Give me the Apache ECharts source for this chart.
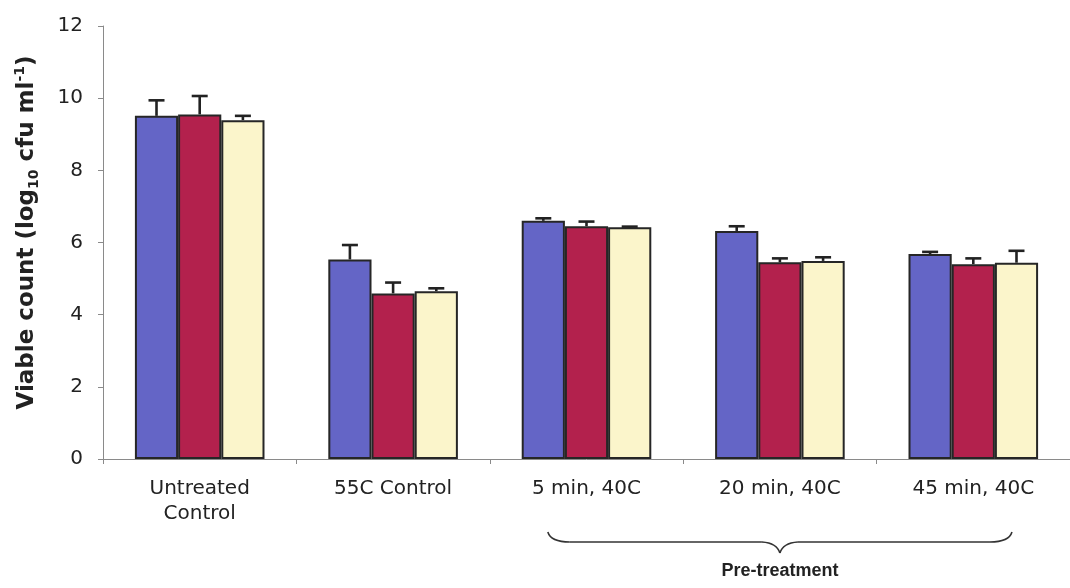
<!DOCTYPE html>
<html><head><meta charset="utf-8">
<script src="https://cdn.jsdelivr.net/npm/echarts@6/dist/echarts.min.js"></script>
<style>html,body{margin:0;padding:0;background:#fff}#c{width:1070px;height:588px}</style>
</head><body><div id="c"></div>
<script>
const categories = ['Untreated\nControl', '55C Control', '5 min, 40C', '20 min, 40C', '45 min, 40C'];
const seriesA = [9.51, 5.53, 6.60, 6.32, 5.68];
const seriesB = [9.55, 4.59, 6.45, 5.45, 5.40];
const seriesC = [9.39, 4.65, 6.42, 5.49, 5.44];
const errA = [0.43, 0.40, 0.07, 0.13, 0.06];
const errB = [0.51, 0.30, 0.13, 0.11, 0.16];
const errC = [0.12, 0.08, 0.02, 0.10, 0.33];
const yTicks = [0, 2, 4, 6, 8, 10, 12];
const colors = ['#6465c6', '#b3214d', '#fbf5cb'];
const groupLabel = 'Pre-treatment';

const FONT = 'DejaVu Sans, Liberation Sans, Arial';
const chart = echarts.init(document.getElementById('c'), null, {renderer: 'canvas'});
const gapFrac = 0.33;
function errSeries(values, errs, k) {
  return {
    type: 'custom', z: 5,
    data: values.map((v, i) => [i, v, v + errs[i]]),
    renderItem: function (params, api) {
      const i = api.value(0);
      const base = api.coord([i, api.value(1)]);
      const top = api.coord([i, api.value(2)]);
      const bw = api.size([1, 0])[0] * (1 - gapFrac) / 3;
      const x = base[0] + (k - 1) * bw;
      const cap = 8;
      const st = {stroke: '#222', lineWidth: 2.6};
      return {type: 'group', children: [
        {type: 'line', shape: {x1: x, y1: base[1], x2: x, y2: top[1]}, style: st},
        {type: 'line', shape: {x1: x - cap, y1: top[1], x2: x + cap, y2: top[1]}, style: st}
      ]};
    }
  };
}
const barBase = {type: 'bar', barGap: '0%', barCategoryGap: (gapFrac * 100) + '%',
  itemStyle: {borderColor: '#262626', borderWidth: 2}};
chart.setOption({
  animation: false,
  backgroundColor: '#ffffff',
  grid: {left: 103, top: 26, width: 975, height: 433, containLabel: false},
  xAxis: {
    type: 'category', data: categories,
    axisLine: {lineStyle: {color: '#8a8a8a', width: 1}},
    axisTick: {show: true, length: 5, lineStyle: {color: '#8a8a8a'}},
    axisLabel: {color: '#222', fontFamily: FONT, fontSize: 20, margin: 17, lineHeight: 25, interval: 0}
  },
  yAxis: {
    type: 'value', min: yTicks[0], max: yTicks[yTicks.length - 1], interval: 2,
    splitLine: {show: false},
    axisLine: {show: true, lineStyle: {color: '#8a8a8a', width: 1}},
    axisTick: {show: true, length: 5, lineStyle: {color: '#8a8a8a'}},
    axisLabel: {color: '#222', fontFamily: FONT, fontSize: 20, margin: 20},
    name: '{t|Viable count (log}{s|10}{t| cfu ml}{p|-1}{t|)}',
    nameLocation: 'middle', nameGap: 62, nameRotate: 90,
    nameTextStyle: {
      padding: [0, 0, 0, 20],
      rich: {
        t: {fontFamily: FONT, fontWeight: 'bold', fontSize: 23, color: '#222', lineHeight: 28},
        s: {fontFamily: FONT, fontWeight: 'bold', fontSize: 14, color: '#222', verticalAlign: 'bottom', lineHeight: 16},
        p: {fontFamily: FONT, fontWeight: 'bold', fontSize: 14, color: '#222', verticalAlign: 'top', lineHeight: 16}
      }
    }
  },
  series: [
    Object.assign({}, barBase, {data: seriesA, itemStyle: Object.assign({}, barBase.itemStyle, {color: colors[0]})}),
    Object.assign({}, barBase, {data: seriesB, itemStyle: Object.assign({}, barBase.itemStyle, {color: colors[1]})}),
    Object.assign({}, barBase, {data: seriesC, itemStyle: Object.assign({}, barBase.itemStyle, {color: colors[2]})}),
    errSeries(seriesA, errA, 0),
    errSeries(seriesB, errB, 1),
    errSeries(seriesC, errC, 2)
  ]
});

// Brace annotation under the pre-treatment groups
const c3 = chart.convertToPixel({xAxisIndex: 0}, 2);
const c4 = chart.convertToPixel({xAxisIndex: 0}, 3);
const c5 = chart.convertToPixel({xAxisIndex: 0}, 4);
const cw = c4 - c3;
const xl = c3 - cw * 0.2, xr = c5 + cw * 0.2, xm = c4;
const yt = 532, yl = 542, yp = 553;
const bst = {fill: null, stroke: '#333', lineWidth: 1.6};
chart.setOption({
  graphic: [
    {type: 'bezierCurve', shape: {x1: xl, y1: yt, cpx1: xl + 3, cpy1: yl, x2: xl + 22, y2: yl}, style: bst},
    {type: 'line', shape: {x1: xl + 22, y1: yl, x2: xm - 18, y2: yl}, style: bst},
    {type: 'bezierCurve', shape: {x1: xm - 18, y1: yl, cpx1: xm - 3, cpy1: yl + 1, x2: xm, y2: yp}, style: bst},
    {type: 'bezierCurve', shape: {x1: xm, y1: yp, cpx1: xm + 3, cpy1: yl + 1, x2: xm + 18, y2: yl}, style: bst},
    {type: 'line', shape: {x1: xm + 18, y1: yl, x2: xr - 22, y2: yl}, style: bst},
    {type: 'bezierCurve', shape: {x1: xr - 22, y1: yl, cpx1: xr - 3, cpy1: yl, x2: xr, y2: yt}, style: bst},
    {type: 'text', x: xm, y: 562, style: {text: groupLabel, fontFamily: 'Liberation Sans, Arial', fontWeight: 'bold', fontSize: 18, fill: '#222', textAlign: 'center', textVerticalAlign: 'top'}}
  ]
});
</script></body></html>
